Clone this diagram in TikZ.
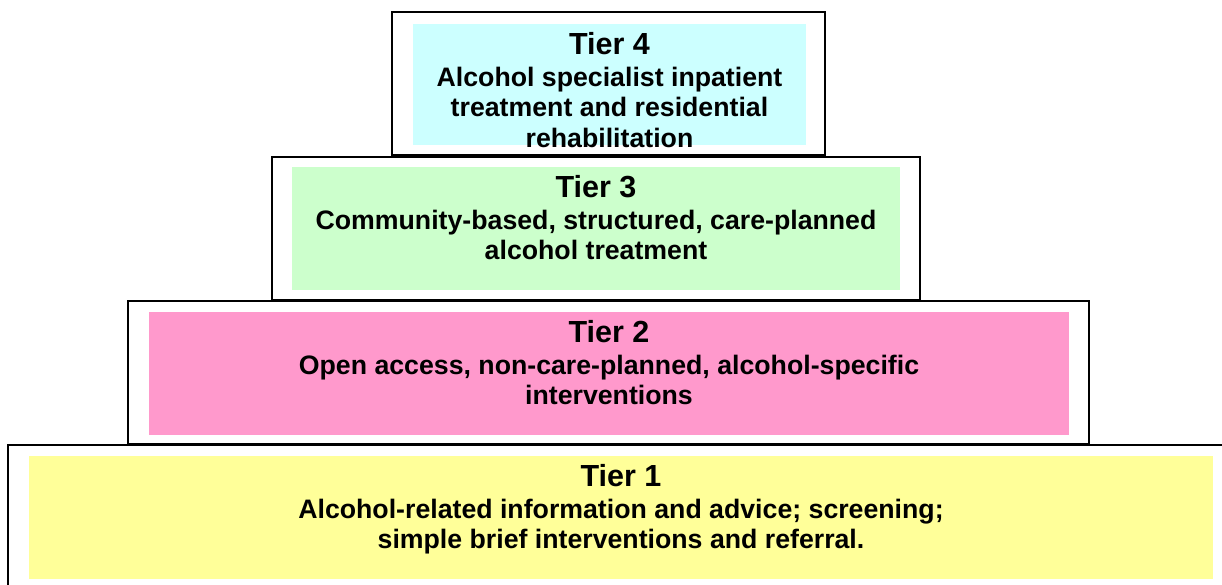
\documentclass[tikz,border=0pt]{standalone}
\usepackage{fontspec}
\setmainfont{Liberation Sans}
\definecolor{tcyan}{HTML}{CCFFFF}
\definecolor{tgreen}{HTML}{CCFFCC}
\definecolor{tpink}{HTML}{FF99CC}
\definecolor{tyellow}{HTML}{FFFF99}
\begin{document}
\begin{tikzpicture}[x=1pt,y=-1pt,
  outerbox/.style={draw=black, line width=1.6pt, fill=white},
  head/.style={font=\bfseries\fontsize{30.5}{34}\selectfont, anchor=base, inner sep=0pt},
  bodyline/.style={font=\bfseries\fontsize{26.7}{30.5}\selectfont, anchor=base, inner sep=0pt}]
\path[use as bounding box] (0,0) rectangle (1222,584);
\clip (0,0) rectangle (1222,584);
\fill[white] (0,0) rectangle (1222,584);
% Tier 4
\draw[outerbox] (392,12) rectangle (825,155);
\fill[tcyan] (413,24) rectangle (806,145);
\node[head] (t4h) at (609.5,54) {Tier 4};
\node[bodyline] (t4a) at (609.5,86) {Alcohol specialist inpatient};
\node[bodyline] (t4b) at (609.5,116.5) {treatment and residential};
\node[bodyline] (t4c) at (609.5,147) {rehabilitation};
% Tier 3
\draw[outerbox] (272,157) rectangle (920,300);
\fill[tgreen] (292,167) rectangle (900,290);
\node[head] (t3h) at (596,197) {Tier 3};
\node[bodyline] (t3a) at (596,229) {Community-based, structured, care-planned};
\node[bodyline] (t3b) at (596,259.5) {alcohol treatment};
% Tier 2
\draw[outerbox] (128,301) rectangle (1089,444);
\fill[tpink] (149,312) rectangle (1069,435);
\node[head] (t2h) at (609,342) {Tier 2};
\node[bodyline] (t2a) at (609,374) {Open access, non-care-planned, alcohol-specific};
\node[bodyline] (t2b) at (609,404.5) {interventions};
% Tier 1
\draw[outerbox] (8,445) rectangle (1240,600);
\fill[tyellow] (29,456) rectangle (1213,579);
\node[head] (t1h) at (621,486) {Tier 1};
\node[bodyline] (t1a) at (621,518) {Alcohol-related information and advice; screening;};
\node[bodyline] (t1b) at (621,548.5) {simple brief interventions and referral.};
\end{tikzpicture}
\end{document}
